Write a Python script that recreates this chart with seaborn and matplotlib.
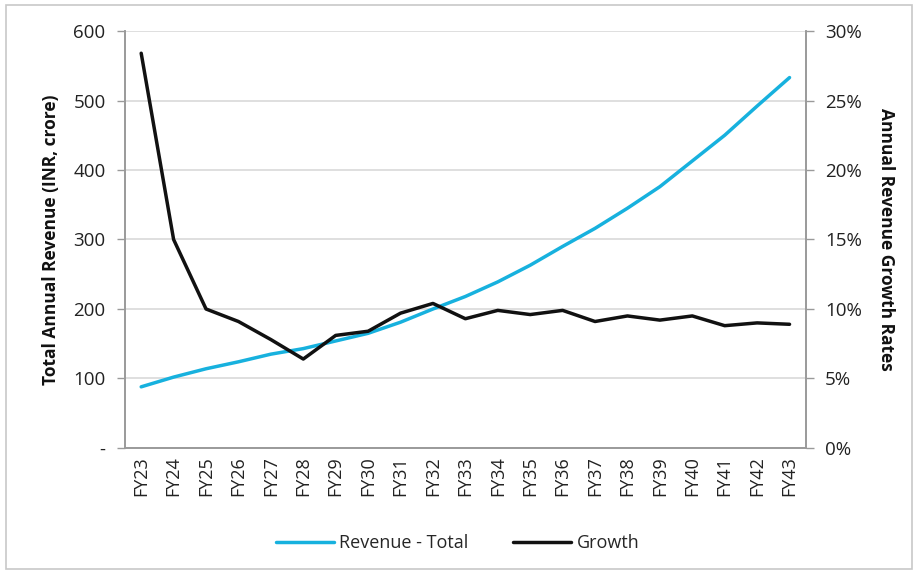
import numpy as np
import pandas as pd
import matplotlib
matplotlib.use("Agg")
import matplotlib.pyplot as plt
import seaborn as sns
from matplotlib.patches import Rectangle
from matplotlib.ticker import FuncFormatter, FixedLocator

years = ["FY23", "FY24", "FY25", "FY26", "FY27", "FY28", "FY29", "FY30", "FY31", "FY32", "FY33",
         "FY34", "FY35", "FY36", "FY37", "FY38", "FY39", "FY40", "FY41", "FY42", "FY43"]
revenue = [88, 102, 114, 124, 135, 143, 154, 165, 181, 200, 218,
           239, 263, 290, 316, 345, 376, 413, 450, 492, 533]
growth = [28.4, 15.0, 10.0, 9.1, 7.8, 6.4, 8.1, 8.4, 9.7, 10.4, 9.3,
          9.9, 9.6, 9.9, 9.1, 9.5, 9.2, 9.5, 8.8, 9.0, 8.9]

blue = "#17B1DE"
dark = "#111111"
grey = "#9a9a9a"

sns.set_theme(style="white")
plt.rcParams["font.family"] = ["Open Sans", "DejaVu Sans"]

df = pd.DataFrame({"pos": np.arange(len(years)), "year": years,
                   "revenue": revenue, "growth": growth})

fig = plt.figure(figsize=(9.15, 5.72), dpi=100)
ax = fig.add_axes([0.1366, 0.2168, 0.744, 0.729])
ax2 = ax.twinx()

sns.lineplot(data=df, x="pos", y="revenue", ax=ax, color=blue, lw=2.5, label="Revenue - Total", legend=False)
sns.lineplot(data=df, x="pos", y="growth", ax=ax2, color=dark, lw=2.5, label="Growth", legend=False)

ax.set_xlim(-0.5, len(years) - 0.5)
ax.set_ylim(0, 600)
ax2.set_ylim(0, 30)
ax.set_yticks(range(0, 601, 100))
ax2.set_yticks(range(0, 31, 5))
ax.yaxis.set_major_formatter(FuncFormatter(lambda v, p: "-" if v == 0 else f"{int(v)}"))
ax2.yaxis.set_major_formatter(FuncFormatter(lambda v, p: f"{int(v)}%"))

ax.set_xticks(df["pos"])
ax.set_xticklabels(years, rotation=90, fontsize=13, color="#222222")
ax.xaxis.set_minor_locator(FixedLocator(np.arange(-0.5, len(years), 1)))
ax.tick_params(axis="x", which="major", length=0, pad=6)
ax.tick_params(axis="x", which="minor", length=5, color=grey, width=1, direction="out")
ax.tick_params(axis="y", length=6, color=grey, width=1, direction="out", labelsize=13.5, labelcolor="#222222", pad=8)
ax2.tick_params(axis="y", length=6, color=grey, width=1, direction="out", labelsize=13.5, labelcolor="#222222", pad=8)

ax.grid(axis="y", color="#d9d9d9", lw=1.2)
ax.set_axisbelow(True)
for a in (ax, ax2):
    a.spines["top"].set_visible(False)
    for s in ("left", "right", "bottom"):
        a.spines[s].set_color(grey)
        a.spines[s].set_linewidth(1.2)

ax.set_xlabel("")
ax.set_ylabel("Total Annual Revenue (INR, crore)", fontsize=12.5, fontweight="bold", color="#111111")
ax.yaxis.set_label_coords(-0.095, 0.5)
ax2.set_ylabel("Annual Revenue Growth Rates", fontsize=12.5, fontweight="bold", color="#111111",
               rotation=270, va="bottom")
ax2.yaxis.set_label_coords(1.105, 0.5)

h1, l1 = ax.get_legend_handles_labels()
h2, l2 = ax2.get_legend_handles_labels()
fig.legend(h1 + h2, l1 + l2, loc="center", bbox_to_anchor=(0.5, 0.05), ncol=2, frameon=False,
           fontsize=13, handlelength=3.2, handletextpad=0.3, columnspacing=2.5)

fig.patches.append(Rectangle((0.007, 0.006), 0.99, 0.985, transform=fig.transFigure,
                             fill=False, edgecolor="#c8c8c8", lw=1.2))

fig.savefig("out.png", dpi=100)
